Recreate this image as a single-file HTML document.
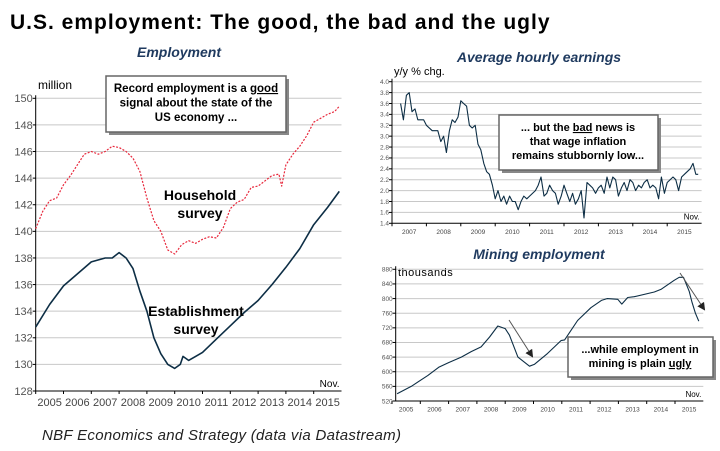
<!DOCTYPE html>
<html><head><meta charset="utf-8">
<style>
body{margin:0;background:#fff;width:720px;height:451px;overflow:hidden;font-family:"Liberation Sans",sans-serif;}
svg{display:block}
</style></head>
<body>
<svg width="720" height="451" viewBox="0 0 720 451">
<defs>
<marker id="ah" markerWidth="8" markerHeight="8" refX="6" refY="4" orient="auto"><path d="M0,0 L8,4 L0,8 z" fill="#222"/></marker>
</defs>
<text x="10" y="29" font-size="21" font-weight="bold" fill="#000" letter-spacing="1">U.S. employment: The good, the bad and the ugly</text>
<g id="c1"></g><g id="c2"></g><g id="c3"></g>
<text x="42" y="440" font-size="15" font-style="italic" fill="#222" letter-spacing="0.3">NBF Economics and Strategy (data via Datastream)</text>
</svg>
<script>
// ---- Employment chart data ----
const estT=[2005.0,2005.5,2006.0,2006.5,2007.0,2007.5,2007.75,2008.0,2008.25,2008.5,2008.75,2009.0,2009.25,2009.5,2009.75,2010.0,2010.2,2010.3,2010.5,2010.75,2011.0,2011.5,2012.0,2012.5,2013.0,2013.5,2014.0,2014.5,2015.0,2015.5,2015.92];
const estV=[132.8,134.5,135.9,136.8,137.7,138.0,138.0,138.4,138.0,137.2,135.5,134.0,132.0,130.8,130.0,129.7,130.0,130.6,130.3,130.6,130.9,131.9,132.9,133.9,134.8,136.0,137.3,138.7,140.5,141.8,143.0];
const hhT=[2005.0,2005.25,2005.5,2005.75,2006.0,2006.25,2006.5,2006.75,2007.0,2007.25,2007.5,2007.75,2008.0,2008.25,2008.5,2008.75,2009.0,2009.25,2009.5,2009.75,2010.0,2010.25,2010.5,2010.75,2011.0,2011.25,2011.5,2011.75,2012.0,2012.25,2012.5,2012.75,2013.0,2013.25,2013.5,2013.75,2013.85,2014.0,2014.25,2014.5,2014.75,2015.0,2015.25,2015.5,2015.75,2015.92];
const hhV=[140.2,141.5,142.3,142.5,143.5,144.2,145.0,145.8,146.0,145.8,146.0,146.4,146.3,146.0,145.5,144.5,142.5,140.8,140.0,138.6,138.3,139.0,139.3,139.1,139.4,139.6,139.5,140.3,141.7,142.2,142.4,143.3,143.4,143.8,144.2,144.3,143.4,145.0,145.8,146.4,147.2,148.2,148.5,148.8,149.0,149.4];
const yTicks1=[128,130,132,134,136,138,140,142,144,146,148,150];
const years1=["2005","2006","2007","2008","2009","2010","2011","2012","2013","2014","2015"];
// ---- Hourly earnings data ----
const ahT=[2007.25,2007.33,2007.42,2007.5,2007.58,2007.67,2007.75,2007.92,2008.0,2008.17,2008.33,2008.42,2008.5,2008.58,2008.67,2008.75,2008.83,2008.92,2009.0,2009.08,2009.17,2009.25,2009.33,2009.42,2009.5,2009.58,2009.67,2009.75,2009.83,2009.92,2010.0,2010.08,2010.17,2010.25,2010.33,2010.42,2010.5,2010.58,2010.67,2010.75,2010.83,2010.92,2011.0,2011.17,2011.25,2011.33,2011.42,2011.5,2011.58,2011.67,2011.75,2011.83,2011.92,2012.0,2012.08,2012.17,2012.25,2012.33,2012.42,2012.5,2012.58,2012.67,2012.75,2012.83,2012.92,2013.0,2013.08,2013.17,2013.25,2013.33,2013.42,2013.5,2013.58,2013.67,2013.75,2013.83,2013.92,2014.0,2014.08,2014.17,2014.25,2014.33,2014.42,2014.5,2014.58,2014.67,2014.75,2014.83,2014.92,2015.0,2015.17,2015.25,2015.33,2015.42,2015.5,2015.67,2015.75,2015.83,2015.9];
const ahV=[3.6,3.3,3.75,3.8,3.45,3.5,3.3,3.3,3.2,3.1,3.1,2.9,3.0,2.7,3.1,3.3,3.25,3.35,3.65,3.6,3.55,3.2,3.15,3.2,2.85,2.75,2.5,2.35,2.3,2.1,1.85,2.0,1.8,1.9,1.75,1.9,1.8,1.8,1.65,1.8,1.9,1.85,1.9,2.0,2.1,2.25,1.9,1.95,2.1,2.0,1.95,1.75,1.9,2.1,1.95,1.8,1.95,1.75,1.85,2.0,1.5,2.15,2.1,2.05,1.95,2.05,2.1,1.95,2.25,2.05,2.25,2.2,1.9,2.05,2.15,2.0,2.2,2.15,2.0,2.1,2.05,2.15,2.2,2.05,2.1,2.05,1.85,2.25,1.95,2.15,2.25,2.2,2.0,2.25,2.3,2.4,2.5,2.3,2.3];
const yTicks2=[1.4,1.6,1.8,2.0,2.2,2.4,2.6,2.8,3.0,3.2,3.4,3.6,3.8,4.0];
const years2=["2007","2008","2009","2010","2011","2012","2013","2014","2015"];
// ---- Mining data ----
const mnT=[2005.18,2005.68,2006.27,2006.65,2007.0,2007.45,2007.8,2008.15,2008.45,2008.74,2009.0,2009.15,2009.45,2009.86,2010.03,2010.5,2010.97,2011.1,2011.56,2012.03,2012.4,2012.6,2012.98,2013.12,2013.33,2013.56,2014.27,2014.5,2014.97,2015.15,2015.3,2015.5,2015.6,2015.72,2015.84];
const mnV=[540,560,590,612,625,640,655,668,695,725,718,700,640,615,620,650,685,687,740,775,795,800,798,785,803,805,818,825,850,858,858,820,790,760,738];
const yTicks3=[520,560,600,640,680,720,760,800,840,880];
const years3=["2005","2006","2007","2008","2009","2010","2011","2012","2013","2014","2015"];

const NS="http://www.w3.org/2000/svg";
function mk(parent,tag,attrs,text){const e=document.createElementNS(NS,tag);for(const k in attrs)e.setAttribute(k,attrs[k]);if(text!==undefined)e.textContent=text;parent.appendChild(e);return e;}

function chart(g,o){
  const sx=t=>o.x0+(t-o.y0yr)*o.yw;
  const sy=v=>o.ybot+(v-o.vmin)/(o.vmax-o.vmin)*(o.ytop-o.ybot);
  const xr=o.x0+o.years.length*o.yw;
  o.yticks.forEach(v=>{
    if(v!==o.vmin){const l=mk(g,'line',{x1:o.ax,x2:xr,y1:sy(v),y2:sy(v),stroke:'#c8c8c8','stroke-width':1});
    
    }
    const t=mk(g,'text',{x:o.ax-3,y:sy(v)+o.fs*0.35,'font-size':o.fs,'text-anchor':'end',fill:'#555','font-family':'"Liberation Sans Narrow","Liberation Sans",sans-serif'},o.fmt(v));
    
    
    mk(g,'line',{x1:o.ax-3,x2:o.ax,y1:sy(v),y2:sy(v),stroke:'#000'});
  });
  const a=mk(g,'path',{d:`M${o.ax},${o.ytop-3}V${o.ybot}H${xr}`,fill:'none',stroke:'#000','stroke-width':1});
  
  
  o.years.forEach((y,i)=>{
    mk(g,'line',{x1:o.x0+i*o.yw,x2:o.x0+i*o.yw,y1:o.ybot,y2:o.ybot+3,stroke:'#000'});
    const t=mk(g,'text',{x:o.x0+(i+0.5)*o.yw,y:o.ybot+o.fs+4,'font-size':o.fs,'text-anchor':'middle',fill:'#444','font-family':'"Liberation Sans Narrow","Liberation Sans",sans-serif'},y);
    
    
  });
  const nv=mk(g,'text',{x:xr-2,y:o.ybot-4,'font-size':o.nfs,'text-anchor':'end',fill:'#000'},'Nov.');
  
  
  o.series.forEach(s=>{
    const d=s.t.map((t,i)=>(i?'L':'M')+sx(t).toFixed(1)+','+sy(s.v[i]).toFixed(1)).join('');
    const p=mk(g,'path',{d:d,fill:'none',stroke:s.c,'stroke-width':s.w,'stroke-dasharray':s.dash||'none','stroke-linejoin':'round'});
    
    
  });
}
function label(g,x,y,txt,attrs,name){const t=mk(g,'text',Object.assign({x:x,y:y},attrs),txt);return t;}
function box(g,x,y,w,h,lines,cx,fs,name){
  mk(g,'rect',{x:x+3,y:y+3,width:w,height:h,fill:'#888'});
  const r=mk(g,'rect',{x:x,y:y,width:w,height:h,fill:'#fff',stroke:'#666','stroke-width':1.5});
  
  
  lines.forEach((l,i)=>{const t=mk(g,'text',{x:cx,y:y+16+i*(fs+3),'font-size':fs,'font-weight':'bold','text-anchor':'middle',fill:'#000'});t.innerHTML=l;});
}
const c1=document.getElementById('c1'),c2=document.getElementById('c2'),c3=document.getElementById('c3');
const hdr={'font-size':14,'font-weight':'bold','font-style':'italic','text-anchor':'middle',fill:'#1f3a5f'};
label(c1,179,57,'Employment',hdr,'employment-title');
label(c1,38,89,'million',{'font-size':12,fill:'#000'},'y-axis-unit');
chart(c1,{x0:35.7,ax:35.7,yw:27.8,y0yr:2005,years:years1,ytop:98.3,ybot:391,vmin:128,vmax:150,yticks:yTicks1,fs:11,nfs:10,fmt:v=>String(v),
 series:[{t:hhT,v:hhV,c:'#e8283c',w:1.2,dash:'2,1.5',name:'household-survey-line'},{t:estT,v:estV,c:'#0d2e45',w:1.6,name:'establishment-survey-line'}]});
box(c1,106,76,180,56,['Record employment is a <tspan text-decoration="underline">good</tspan>','signal about the state of the','US economy  ...'],196,11.5,'annotation-good');
label(c1,200,200,'Household',{'font-size':14,'font-weight':'bold','text-anchor':'middle'},'household-label');
label(c1,200,218,'survey',{'font-size':14,'font-weight':'bold','text-anchor':'middle'},'household-label-2');
label(c1,196,316,'Establishment',{'font-size':14,'font-weight':'bold','text-anchor':'middle'},'establishment-label');
label(c1,196,334,'survey',{'font-size':14,'font-weight':'bold','text-anchor':'middle'},'establishment-label-2');

label(c2,539,62,'Average hourly earnings',hdr,'earnings-title');
label(c2,394,75,'y/y % chg.',{'font-size':11,fill:'#000'},'earnings-unit');
chart(c2,{x0:392,ax:392,yw:34.4,y0yr:2007,years:years2,ytop:81.7,ybot:223.3,vmin:1.4,vmax:4.0,yticks:yTicks2,fs:6.5,nfs:8,fmt:v=>v.toFixed(1),
 series:[{t:ahT,v:ahV,c:'#0d2e45',w:1.1,name:'earnings-line'}]});
box(c2,499,115,159,55,['... but the <tspan text-decoration="underline">bad</tspan> news is','that wage inflation','remains stubbornly low...'],578,11,'annotation-bad');

label(c3,539,259,'Mining employment',hdr,'mining-title');
label(c3,398,276,'thousands',{'font-size':11,fill:'#000','letter-spacing':'0.5'},'mining-unit');
chart(c3,{x0:392,ax:395.7,yw:28.3,y0yr:2005,years:years3,ytop:269.3,ybot:401,vmin:520,vmax:880,yticks:yTicks3,fs:6.5,nfs:8,fmt:v=>String(v),
 series:[{t:mnT,v:mnV,c:'#0d2e45',w:1.1,name:'mining-line'}]});
box(c3,568,337,145,40,['...while employment in','mining is plain <tspan text-decoration="underline">ugly</tspan>'],640,11,'annotation-ugly');
const ar1=mk(c3,'line',{x1:509,y1:320,x2:532,y2:356,stroke:'#555','stroke-width':1,'marker-end':'url(#ah)'});


const ar2=mk(c3,'line',{x1:680,y1:273,x2:704,y2:309,stroke:'#555','stroke-width':1,'marker-end':'url(#ah)'});


</script>
</body></html>
